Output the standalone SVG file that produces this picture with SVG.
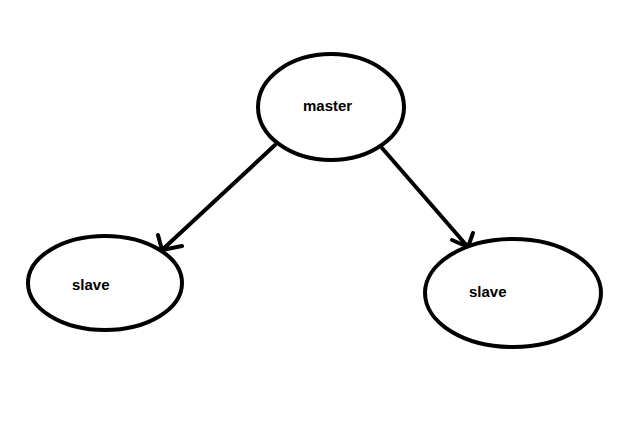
<svg xmlns="http://www.w3.org/2000/svg" width="642" height="440" viewBox="0 0 642 440">
<style>
.n{fill:#fff;stroke:#000;stroke-width:4}
.t{font-family:"Liberation Sans",Arial,sans-serif;font-weight:bold;font-size:15px;fill:#000}
.c{fill:none;stroke:#000;stroke-width:4;stroke-linecap:round;stroke-linejoin:round}
</style>
<rect width="642" height="440" fill="#fff"/>
<g id="connectors">
<path class="c" d="M275 145 L162 250 M158 235 L162 250 L182 246"/>
<path class="c" d="M382 148 L468 247 M452 240 L468 247 L473 233"/>
</g>
<g id="master">
<ellipse class="n" cx="331" cy="107" rx="73" ry="53"/>
<text class="t" x="303" y="111">master</text>
</g>
<g id="slave1">
<ellipse class="n" cx="105" cy="283" rx="77" ry="47"/>
<text class="t" x="72" y="290">slave</text>
</g>
<g id="slave2">
<ellipse class="n" cx="513" cy="293" rx="88" ry="54"/>
<text class="t" x="469" y="297">slave</text>
</g>
</svg>
